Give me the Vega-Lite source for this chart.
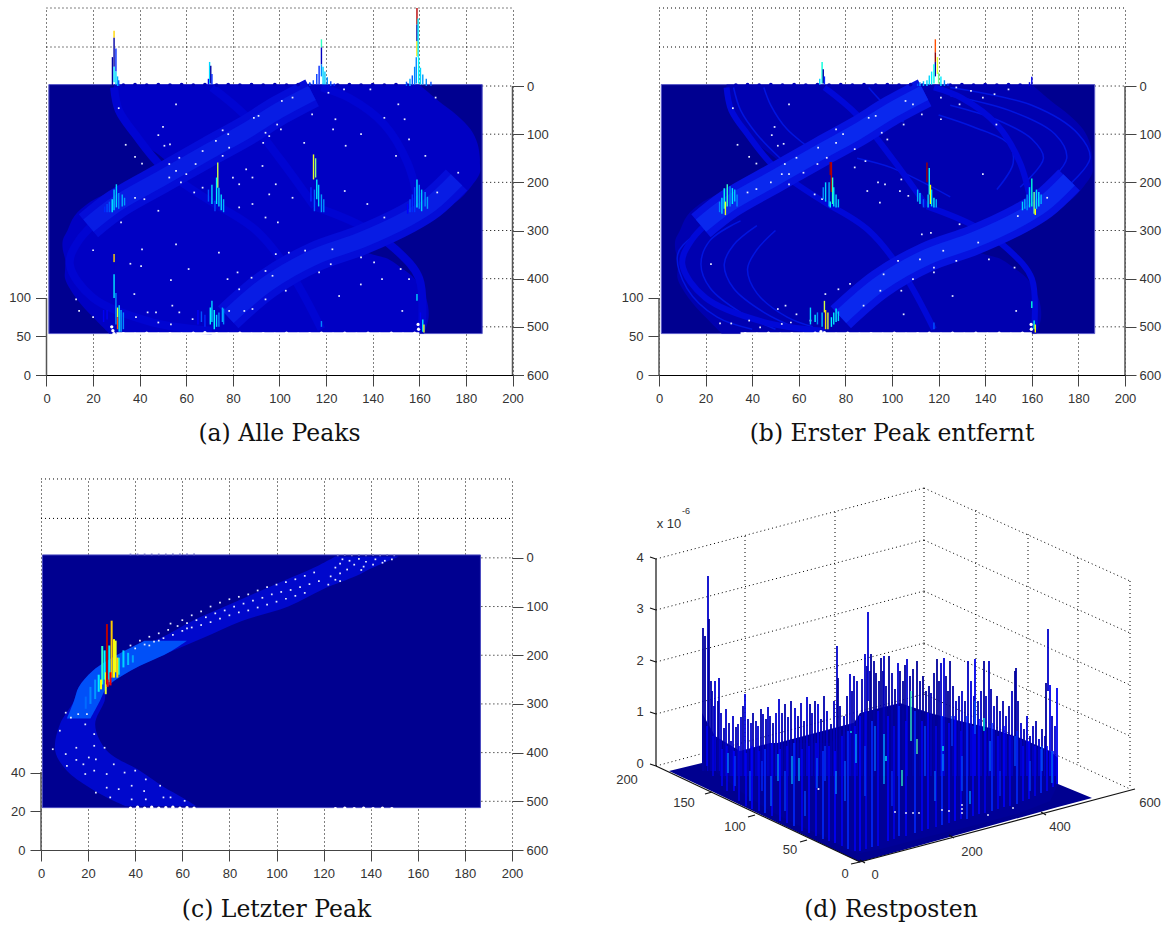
{"$schema":"https://vega.github.io/schema/vega-lite/v6.json","background":"white","padding":{"left":8,"top":7,"right":0,"bottom":0},"bounds":"flush","align":"each","columns":2,"spacing":{"row":103,"column":146},
"config":{"view":{"stroke":null},"axis":{"labelFont":"Liberation Sans","labelFontSize":13,"labelColor":"#333","tickColor":"#444","tickSize":11,"title":null,"labelFlush":false,"labelOverlap":false}},
"datasets":{
"hgrid":[{"y":-162,"x0":0,"x1":200},{"y":-81,"x0":0,"x1":200},{"y":0,"x0":187,"x1":200},{"y":100,"x0":187,"x1":200},{"y":200,"x0":187,"x1":200},{"y":300,"x0":187,"x1":200},{"y":400,"x0":187,"x1":200},{"y":500,"x0":187,"x1":200}],
"frame":[{"x":1,"x1":187,"y":-3,"y1":514}],
"region":[{"y":-3,"l":29,"r":160},{"y":30,"l":29,"r":168},{"y":60,"l":31,"r":176},{"y":90,"l":36,"r":182},{"y":120,"l":42,"r":185},{"y":150,"l":50,"r":186},{"y":160,"l":52,"r":186},{"y":180,"l":45,"r":186},{"y":210,"l":32,"r":182},{"y":240,"l":19,"r":176},{"y":270,"l":12,"r":163},{"y":300,"l":9,"r":143},{"y":320,"l":7,"r":138},{"y":340,"l":7,"r":136},{"y":360,"l":8,"r":147},{"y":380,"l":8,"r":153},{"y":400,"l":8,"r":158},{"y":442,"l":13,"r":163},{"y":480,"l":20,"r":164},{"y":514,"l":27,"r":162}],
"bright":[{"s":"r1","x":114,"y":14},{"s":"r1","x":100,"y":50},{"s":"r1","x":85,"y":95},{"s":"r1","x":70,"y":135},{"s":"r1","x":50,"y":190},{"s":"r1","x":30,"y":245},{"s":"r1","x":18,"y":290},{"s":"r2","x":78,"y":480},{"s":"r2","x":95,"y":410},{"s":"r2","x":115,"y":355},{"s":"r2","x":135,"y":320},{"s":"r2","x":155,"y":275},{"s":"r2","x":165,"y":245},{"s":"r2","x":176,"y":195}],
"dim":[{"s":"a1","x":29,"y":3},{"s":"a1","x":31,"y":50},{"s":"a1","x":38,"y":100},{"s":"a1","x":50,"y":170},{"s":"a1","x":74,"y":250},{"s":"a2","x":118,"y":3},{"s":"a2","x":130,"y":25},{"s":"a2","x":145,"y":80},{"s":"a2","x":155,"y":160},{"s":"a2","x":160,"y":250},{"s":"a4","x":115,"y":250},{"s":"a4","x":135,"y":290},{"s":"a4","x":150,"y":340},{"s":"a4","x":160,"y":400},{"s":"a4","x":161,"y":505},{"s":"a5","x":29,"y":250},{"s":"a5","x":14,"y":320},{"s":"a5","x":10,"y":370},{"s":"a5","x":20,"y":440},{"s":"a5","x":45,"y":490},{"s":"a5","x":71,"y":508},{"s":"a6","x":74,"y":250},{"s":"a6","x":90,"y":300},{"s":"a6","x":105,"y":390},{"s":"a6","x":118,"y":505},{"s":"a7","x":71,"y":3},{"s":"a7","x":85,"y":60},{"s":"a7","x":100,"y":150},{"s":"a7","x":115,"y":250}],
"arcs":[{"s":"s1","x":125,"y":3},{"s":"s1","x":160,"y":40},{"s":"s1","x":180,"y":100},{"s":"s1","x":185,"y":150},{"s":"s1","x":175,"y":210},{"s":"s2","x":125,"y":20},{"s":"s2","x":150,"y":50},{"s":"s2","x":170,"y":100},{"s":"s2","x":175,"y":150},{"s":"s2","x":165,"y":210},{"s":"s3","x":125,"y":40},{"s":"s3","x":145,"y":70},{"s":"s3","x":160,"y":110},{"s":"s3","x":165,"y":150},{"s":"s3","x":155,"y":210},{"s":"s4","x":120,"y":60},{"s":"s4","x":135,"y":85},{"s":"s4","x":150,"y":120},{"s":"s4","x":152,"y":160},{"s":"s4","x":145,"y":215},{"s":"s5","x":29,"y":270},{"s":"s5","x":15,"y":310},{"s":"s5","x":8,"y":350},{"s":"s5","x":12,"y":420},{"s":"s5","x":25,"y":480},{"s":"s5","x":40,"y":505},{"s":"s6","x":35,"y":280},{"s":"s6","x":22,"y":320},{"s":"s6","x":18,"y":370},{"s":"s6","x":22,"y":420},{"s":"s6","x":35,"y":470},{"s":"s6","x":50,"y":505},{"s":"s7","x":42,"y":290},{"s":"s7","x":32,"y":330},{"s":"s7","x":28,"y":370},{"s":"s7","x":32,"y":420},{"s":"s7","x":45,"y":470},{"s":"s7","x":60,"y":505},{"s":"s8","x":50,"y":300},{"s":"s8","x":42,"y":340},{"s":"s8","x":38,"y":380},{"s":"s8","x":42,"y":430},{"s":"s8","x":55,"y":480},{"s":"s8","x":66,"y":500},{"s":"s9","x":32,"y":3},{"s":"s9","x":35,"y":50},{"s":"s9","x":42,"y":100},{"s":"s9","x":52,"y":150},{"s":"s10","x":45,"y":3},{"s":"s10","x":48,"y":40},{"s":"s10","x":55,"y":90},{"s":"s10","x":65,"y":130},{"s":"s11","x":90,"y":3},{"s":"s11","x":95,"y":30},{"s":"s11","x":105,"y":75},{"s":"s12","x":85,"y":150},{"s":"s12","x":100,"y":170},{"s":"s12","x":125,"y":230}],
"pa":[{"x":29,"y":-115,"y2":-100,"v":0.68},{"x":29,"y":-100,"y2":-40,"v":0.02},{"x":29,"y":-40,"y2":-8,"v":0.33},{"x":28.3,"y":-60,"y2":-2,"v":0.02},{"x":29.8,"y":-78,"y2":-30,"v":0.12},{"x":29.8,"y":-30,"y2":-3,"v":0.3},{"x":30.5,"y":-20,"y2":0,"v":0.25},{"x":31,"y":-12,"y2":0,"v":0.15},{"x":70,"y":-50,"y2":-5,"v":0.3},{"x":70.5,"y":-42,"y2":-5,"v":0.02},{"x":71,"y":-25,"y2":-3,"v":0.12},{"x":69.5,"y":-15,"y2":-3,"v":0.1},{"x":118,"y":-97,"y2":-80,"v":0.45},{"x":118,"y":-80,"y2":-45,"v":0.05},{"x":118,"y":-45,"y2":-20,"v":0.2},{"x":117,"y":-42,"y2":-3,"v":0.12},{"x":118.7,"y":-40,"y2":-3,"v":0.3},{"x":116,"y":-25,"y2":-3,"v":0.13},{"x":119.5,"y":-30,"y2":-3,"v":0.28},{"x":120.5,"y":-18,"y2":-3,"v":0.2},{"x":114.5,"y":-12,"y2":-3,"v":0.14},{"x":113,"y":-8,"y2":0,"v":0.13},{"x":122,"y":-10,"y2":0,"v":0.14},{"x":123.5,"y":-5,"y2":0,"v":0.12},{"x":159,"y":-162,"y2":-128,"v":0.95},{"x":159,"y":-128,"y2":-93,"v":0.01},{"x":159,"y":-93,"y2":-62,"v":0.66},{"x":159.5,"y":-140,"y2":-60,"v":0.33},{"x":158.7,"y":-60,"y2":-5,"v":0.2},{"x":159.7,"y":-60,"y2":-5,"v":0.36},{"x":158,"y":-40,"y2":-3,"v":0.2},{"x":160.5,"y":-38,"y2":-3,"v":0.3},{"x":157,"y":-22,"y2":-3,"v":0.15},{"x":161.5,"y":-24,"y2":-3,"v":0.22},{"x":156,"y":-15,"y2":0,"v":0.25},{"x":163,"y":-15,"y2":0,"v":0.2},{"x":154.5,"y":-9,"y2":0,"v":0.15},{"x":165,"y":-9,"y2":0,"v":0.15},{"x":30,"y":204,"y2":252,"v":0.3},{"x":29,"y":215,"y2":258,"v":0.28},{"x":31,"y":222,"y2":255,"v":0.2},{"x":32.5,"y":225,"y2":250,"v":0.25},{"x":27,"y":240,"y2":262,"v":0.15},{"x":26,"y":245,"y2":262,"v":0.14},{"x":28.2,"y":235,"y2":262,"v":0.34},{"x":33.5,"y":232,"y2":248,"v":0.22},{"x":25,"y":250,"y2":262,"v":0.12},{"x":73.5,"y":159,"y2":211,"v":0.58},{"x":74,"y":211,"y2":250,"v":0.3},{"x":73,"y":190,"y2":245,"v":0.34},{"x":71,"y":205,"y2":245,"v":0.3},{"x":69.5,"y":215,"y2":240,"v":0.15},{"x":75,"y":225,"y2":258,"v":0.3},{"x":76,"y":235,"y2":262,"v":0.25},{"x":72.3,"y":238,"y2":260,"v":0.14},{"x":114.6,"y":142,"y2":194,"v":0.6},{"x":115.5,"y":150,"y2":190,"v":0.52},{"x":116,"y":194,"y2":235,"v":0.33},{"x":116.8,"y":205,"y2":250,"v":0.3},{"x":115,"y":215,"y2":260,"v":0.16},{"x":118,"y":225,"y2":262,"v":0.22},{"x":119,"y":235,"y2":262,"v":0.2},{"x":113.5,"y":210,"y2":240,"v":0.12},{"x":159,"y":194,"y2":252,"v":0.33},{"x":158,"y":210,"y2":262,"v":0.13},{"x":160,"y":205,"y2":255,"v":0.2},{"x":161,"y":215,"y2":260,"v":0.28},{"x":157,"y":225,"y2":262,"v":0.12},{"x":162.5,"y":220,"y2":250,"v":0.2},{"x":163.5,"y":230,"y2":255,"v":0.22},{"x":156,"y":235,"y2":262,"v":0.14},{"x":155,"y":245,"y2":265,"v":0.11},{"x":29,"y":349,"y2":366,"v":0.68},{"x":29,"y":366,"y2":391,"v":0.05},{"x":29,"y":391,"y2":440,"v":0.33},{"x":29.8,"y":430,"y2":495,"v":0.2},{"x":30.5,"y":460,"y2":480,"v":0.6},{"x":30.5,"y":480,"y2":505,"v":0.85},{"x":31.2,"y":455,"y2":510,"v":0.32},{"x":32,"y":465,"y2":510,"v":0.25},{"x":33,"y":470,"y2":505,"v":0.2},{"x":26,"y":465,"y2":485,"v":0.1},{"x":24.5,"y":465,"y2":490,"v":0.1},{"x":71,"y":446,"y2":490,"v":0.3},{"x":70.3,"y":460,"y2":495,"v":0.34},{"x":72,"y":465,"y2":505,"v":0.36},{"x":74,"y":470,"y2":500,"v":0.2},{"x":75.5,"y":460,"y2":490,"v":0.25},{"x":76,"y":462,"y2":495,"v":0.2},{"x":73,"y":475,"y2":500,"v":0.3},{"x":65,"y":465,"y2":495,"v":0.1},{"x":66.5,"y":468,"y2":490,"v":0.15},{"x":68,"y":475,"y2":500,"v":0.12},{"x":159,"y":432,"y2":446,"v":0.3},{"x":161.5,"y":485,"y2":510,"v":0.33},{"x":162,"y":495,"y2":512,"v":0.6},{"x":160.5,"y":470,"y2":505,"v":0.1},{"x":118,"y":488,"y2":500,"v":0.2}],
"pb":[{"x":70,"y":-50,"y2":-5,"v":0.42},{"x":70.5,"y":-35,"y2":-5,"v":0.03},{"x":71,"y":-20,"y2":-3,"v":0.12},{"x":69,"y":-15,"y2":-3,"v":0.3},{"x":118.6,"y":-97,"y2":-70,"v":0.85},{"x":118.6,"y":-70,"y2":-50,"v":0.98},{"x":118.6,"y":-50,"y2":-20,"v":0.03},{"x":119.5,"y":-60,"y2":-25,"v":0.6},{"x":118,"y":-45,"y2":-5,"v":0.4},{"x":120,"y":-28,"y2":-5,"v":0.5},{"x":117,"y":-30,"y2":-3,"v":0.33},{"x":116,"y":-22,"y2":-3,"v":0.3},{"x":121,"y":-20,"y2":0,"v":0.33},{"x":115,"y":-12,"y2":0,"v":0.3},{"x":113.5,"y":-10,"y2":0,"v":0.25},{"x":112,"y":-8,"y2":0,"v":0.22},{"x":122.5,"y":-12,"y2":0,"v":0.2},{"x":111,"y":-5,"y2":0,"v":0.15},{"x":124,"y":-5,"y2":0,"v":0.12},{"x":160,"y":-19,"y2":-3,"v":0.1},{"x":159,"y":-8,"y2":0,"v":0.08},{"x":29.3,"y":204,"y2":250,"v":0.45},{"x":28,"y":212,"y2":255,"v":0.38},{"x":30.5,"y":208,"y2":250,"v":0.2},{"x":31.5,"y":212,"y2":245,"v":0.33},{"x":32.5,"y":215,"y2":240,"v":0.28},{"x":27,"y":232,"y2":265,"v":0.3},{"x":26,"y":240,"y2":262,"v":0.2},{"x":28.5,"y":240,"y2":268,"v":0.6},{"x":33.5,"y":225,"y2":250,"v":0.2},{"x":73.5,"y":158,"y2":185,"v":0.97},{"x":74,"y":158,"y2":220,"v":0.95},{"x":74.5,"y":190,"y2":245,"v":0.45},{"x":75,"y":210,"y2":250,"v":0.33},{"x":73,"y":200,"y2":250,"v":0.25},{"x":71.5,"y":200,"y2":240,"v":0.3},{"x":70.5,"y":210,"y2":235,"v":0.2},{"x":76,"y":225,"y2":252,"v":0.3},{"x":77,"y":235,"y2":252,"v":0.28},{"x":73.5,"y":240,"y2":252,"v":0.35},{"x":115,"y":159,"y2":200,"v":0.97},{"x":116,"y":170,"y2":225,"v":0.33},{"x":116.5,"y":205,"y2":245,"v":0.62},{"x":117,"y":215,"y2":250,"v":0.3},{"x":115.5,"y":225,"y2":252,"v":0.3},{"x":118,"y":232,"y2":252,"v":0.34},{"x":119,"y":235,"y2":252,"v":0.25},{"x":111,"y":215,"y2":240,"v":0.25},{"x":112,"y":222,"y2":245,"v":0.3},{"x":113.5,"y":235,"y2":252,"v":0.15},{"x":160,"y":192,"y2":250,"v":0.42},{"x":159,"y":210,"y2":252,"v":0.3},{"x":161,"y":220,"y2":265,"v":0.5},{"x":162,"y":215,"y2":255,"v":0.3},{"x":163,"y":220,"y2":250,"v":0.33},{"x":158,"y":225,"y2":258,"v":0.2},{"x":157,"y":235,"y2":255,"v":0.25},{"x":156,"y":240,"y2":258,"v":0.3},{"x":164,"y":225,"y2":245,"v":0.25},{"x":161.5,"y":255,"y2":268,"v":0.62},{"x":71,"y":446,"y2":470,"v":0.58},{"x":71.5,"y":465,"y2":505,"v":0.68},{"x":72.5,"y":470,"y2":505,"v":0.6},{"x":70,"y":470,"y2":500,"v":0.28},{"x":75,"y":470,"y2":495,"v":0.33},{"x":76,"y":462,"y2":490,"v":0.34},{"x":77,"y":468,"y2":488,"v":0.3},{"x":74,"y":480,"y2":500,"v":0.35},{"x":65,"y":460,"y2":495,"v":0.3},{"x":68,"y":470,"y2":495,"v":0.2},{"x":67,"y":475,"y2":490,"v":0.36},{"x":160,"y":447,"y2":461,"v":0.42},{"x":161,"y":487,"y2":505,"v":0.4},{"x":161.5,"y":495,"y2":512,"v":0.62},{"x":118,"y":491,"y2":505,"v":0.15}],
"pc":[{"x":26,"y":181,"y2":260,"v":0.45},{"x":27,"y":190,"y2":250,"v":0.36},{"x":24.5,"y":240,"y2":275,"v":0.34},{"x":23,"y":250,"y2":290,"v":0.22},{"x":21,"y":265,"y2":300,"v":0.2},{"x":19,"y":285,"y2":310,"v":0.17},{"x":35,"y":190,"y2":225,"v":0.3},{"x":37,"y":195,"y2":220,"v":0.27},{"x":39,"y":200,"y2":215,"v":0.23},{"x":29,"y":180,"y2":255,"v":0.33},{"x":33,"y":205,"y2":240,"v":0.4},{"x":31,"y":167,"y2":246,"v":0.62},{"x":31.7,"y":170,"y2":235,"v":0.6},{"x":32.4,"y":205,"y2":246,"v":0.68},{"x":27.5,"y":235,"y2":280,"v":0.6},{"x":25.5,"y":250,"y2":270,"v":0.62},{"x":28,"y":136,"y2":260,"v":0.95},{"x":30,"y":129,"y2":246,"v":0.7},{"x":29.5,"y":235,"y2":262,"v":0.9},{"x":28.3,"y":250,"y2":265,"v":0.9}],
"ribbon":[{"y":-3,"l":125,"r":152},{"y":20,"l":116,"r":141},{"y":37,"l":108,"r":134},{"y":64,"l":95,"r":120},{"y":100,"l":78,"r":105},{"y":130,"l":64,"r":85},{"y":164,"l":51,"r":69},{"y":195,"l":34,"r":54},{"y":232,"l":22,"r":38},{"y":266,"l":16,"r":28},{"y":294,"l":14,"r":27},{"y":342,"l":8,"r":23},{"y":396,"l":6,"r":28},{"y":437,"l":11,"r":42},{"y":470,"l":20,"r":52},{"y":492,"l":28,"r":60},{"y":510,"l":36,"r":66}],
"ribboncore":[{"y":170,"l":44,"r":62},{"y":195,"l":34,"r":54},{"y":232,"l":22,"r":38},{"y":266,"l":16,"r":28},{"y":294,"l":14,"r":25},{"y":330,"l":11,"r":21}],
"da":[{"x":55.6,"y":38},{"x":31,"y":46},{"x":50,"y":85},{"x":48,"y":102},{"x":34,"y":122},{"x":38,"y":147},{"x":41,"y":161},{"x":50.6,"y":124},{"x":53,"y":121},{"x":75.6,"y":92},{"x":78,"y":100},{"x":89,"y":66},{"x":91,"y":62},{"x":94,"y":97},{"x":95.6,"y":104},{"x":93,"y":118},{"x":101,"y":31},{"x":105.6,"y":24},{"x":99,"y":80},{"x":100.6,"y":90},{"x":67,"y":135},{"x":72.7,"y":114},{"x":78.4,"y":128},{"x":75.6,"y":145},{"x":52.7,"y":162},{"x":57,"y":149},{"x":64,"y":162},{"x":55.6,"y":176},{"x":60,"y":183},{"x":52.7,"y":190},{"x":57.7,"y":200},{"x":63.4,"y":221},{"x":67,"y":211},{"x":80,"y":190},{"x":85.7,"y":173},{"x":92.7,"y":166},{"x":82.7,"y":204},{"x":88.4,"y":190},{"x":98.4,"y":204},{"x":95.6,"y":225},{"x":105.6,"y":232},{"x":88.4,"y":245},{"x":82.7,"y":252},{"x":94,"y":273},{"x":99.3,"y":283},{"x":48,"y":259},{"x":32,"y":283},{"x":38,"y":232},{"x":42,"y":235},{"x":121,"y":14},{"x":127.7,"y":7},{"x":139,"y":7},{"x":151,"y":38},{"x":167,"y":24},{"x":114,"y":59},{"x":124,"y":69},{"x":145,"y":66},{"x":153.7,"y":69},{"x":135,"y":100},{"x":155.6,"y":111},{"x":123,"y":90},{"x":110.6,"y":118},{"x":128.4,"y":124},{"x":150,"y":145},{"x":162.6,"y":145},{"x":128,"y":218},{"x":167.7,"y":221},{"x":176.7,"y":180},{"x":137.7,"y":245},{"x":145,"y":273},{"x":20,"y":341},{"x":41,"y":339},{"x":36,"y":369},{"x":40.6,"y":374},{"x":55.6,"y":329},{"x":61,"y":380},{"x":53.4,"y":403},{"x":74,"y":346},{"x":82,"y":387},{"x":77.7,"y":401},{"x":88,"y":398},{"x":94,"y":384},{"x":98.4,"y":349},{"x":104,"y":346},{"x":97,"y":394},{"x":102.7,"y":425},{"x":82.7,"y":422},{"x":94,"y":443},{"x":84.9,"y":467},{"x":88.4,"y":463},{"x":12.7,"y":443},{"x":14,"y":467},{"x":20,"y":480},{"x":37.7,"y":432},{"x":38.4,"y":480},{"x":43.4,"y":470},{"x":47,"y":470},{"x":54,"y":456},{"x":57,"y":470},{"x":53.4,"y":495},{"x":62.7,"y":484},{"x":78.4,"y":467},{"x":48,"y":491},{"x":111,"y":342},{"x":122.7,"y":339},{"x":117,"y":387},{"x":122,"y":370},{"x":135,"y":356},{"x":140.6,"y":366},{"x":152,"y":380},{"x":155.6,"y":401},{"x":144,"y":401},{"x":134.9,"y":412},{"x":125.6,"y":436},{"x":152.7,"y":467}],
"db":[{"x":55.8,"y":38},{"x":31.7,"y":46},{"x":49.6,"y":85},{"x":48.4,"y":102},{"x":33.7,"y":122},{"x":38.7,"y":147},{"x":41.8,"y":161},{"x":51,"y":124},{"x":53.5,"y":120},{"x":76,"y":90},{"x":79,"y":100},{"x":90,"y":66},{"x":93,"y":62},{"x":95.6,"y":97},{"x":98,"y":111},{"x":105.8,"y":31},{"x":109,"y":38},{"x":105,"y":80},{"x":112.8,"y":59},{"x":68.3,"y":128},{"x":76,"y":118},{"x":84,"y":131},{"x":72,"y":149},{"x":54,"y":162},{"x":59,"y":149},{"x":68,"y":162},{"x":55.8,"y":183},{"x":62,"y":180},{"x":52.7,"y":183},{"x":55.8,"y":204},{"x":66.8,"y":225},{"x":70,"y":235},{"x":84,"y":169},{"x":88.6,"y":156},{"x":127.6,"y":3},{"x":133.9,"y":10},{"x":139,"y":24},{"x":144,"y":17},{"x":150,"y":7},{"x":121,"y":24},{"x":129,"y":38},{"x":121,"y":69},{"x":144.8,"y":80},{"x":139,"y":183},{"x":104,"y":194},{"x":94,"y":200},{"x":97,"y":204},{"x":89.4,"y":218},{"x":103.4,"y":218},{"x":107,"y":228},{"x":94.8,"y":242},{"x":38,"y":221},{"x":41.8,"y":214},{"x":48,"y":200},{"x":154,"y":270},{"x":166.6,"y":232},{"x":112.8,"y":308},{"x":116.7,"y":305},{"x":129,"y":287},{"x":137,"y":325},{"x":122,"y":342},{"x":112,"y":360},{"x":141.6,"y":360},{"x":118,"y":377},{"x":127.6,"y":363},{"x":102.6,"y":363},{"x":96.4,"y":391},{"x":109,"y":401},{"x":118,"y":387},{"x":104,"y":425},{"x":95,"y":425},{"x":87.8,"y":456},{"x":82,"y":411},{"x":22.3,"y":370},{"x":152.6,"y":377},{"x":126,"y":436},{"x":153.3,"y":467},{"x":105,"y":474},{"x":77,"y":422},{"x":71.4,"y":432},{"x":54.3,"y":456},{"x":51,"y":463},{"x":59,"y":474},{"x":26.2,"y":493},{"x":31,"y":493},{"x":38.7,"y":487},{"x":52.7,"y":494},{"x":56.6,"y":491},{"x":65,"y":487},{"x":43.4,"y":501}],
"dc":[{"x":128,"y":3},{"x":131,"y":6},{"x":135,"y":2},{"x":138,"y":8},{"x":142,"y":3},{"x":146,"y":6},{"x":149,"y":3},{"x":127,"y":12},{"x":133,"y":14},{"x":137,"y":18},{"x":141,"y":14},{"x":145,"y":10},{"x":125,"y":20},{"x":130,"y":24},{"x":136,"y":25},{"x":127,"y":32},{"x":123,"y":38},{"x":125,"y":45},{"x":122,"y":55},{"x":127,"y":48},{"x":116,"y":30},{"x":112,"y":37},{"x":108,"y":44},{"x":104,"y":50},{"x":100,"y":55},{"x":96,"y":60},{"x":92,"y":67},{"x":88,"y":75},{"x":84,"y":80},{"x":80,"y":85},{"x":76,"y":92},{"x":72,"y":100},{"x":68,"y":110},{"x":64,"y":118},{"x":118,"y":48},{"x":114,"y":54},{"x":110,"y":60},{"x":106,"y":66},{"x":102,"y":70},{"x":98,"y":75},{"x":94,"y":82},{"x":90,"y":88},{"x":86,"y":94},{"x":82,"y":100},{"x":78,"y":108},{"x":74,"y":114},{"x":70,"y":122},{"x":66,"y":128},{"x":62,"y":134},{"x":58,"y":140},{"x":54,"y":148},{"x":50,"y":155},{"x":46,"y":162},{"x":112,"y":72},{"x":108,"y":78},{"x":104,"y":84},{"x":100,"y":90},{"x":96,"y":96},{"x":92,"y":102},{"x":88,"y":108},{"x":84,"y":112},{"x":80,"y":118},{"x":76,"y":125},{"x":72,"y":132},{"x":68,"y":138},{"x":64,"y":143},{"x":60,"y":150},{"x":56,"y":158},{"x":52,"y":165},{"x":48,"y":172},{"x":44,"y":178},{"x":40,"y":186},{"x":60,"y":128},{"x":55,"y":135},{"x":62,"y":145},{"x":50,"y":170},{"x":46,"y":180},{"x":42,"y":170},{"x":38,"y":180},{"x":10.5,"y":318},{"x":15.8,"y":321},{"x":19.5,"y":321},{"x":8,"y":355},{"x":12.7,"y":328},{"x":18.8,"y":342},{"x":22.6,"y":362},{"x":5,"y":393},{"x":10.5,"y":403},{"x":15,"y":390},{"x":22.6,"y":386},{"x":27,"y":390},{"x":15,"y":415},{"x":20.3,"y":410},{"x":23.3,"y":414},{"x":11,"y":427},{"x":18,"y":424},{"x":22.6,"y":437},{"x":27.9,"y":444},{"x":30.9,"y":424},{"x":35.5,"y":441},{"x":40,"y":437},{"x":44.5,"y":455},{"x":27.9,"y":472},{"x":33,"y":475},{"x":38.5,"y":468},{"x":43.8,"y":479},{"x":50.6,"y":468},{"x":29.4,"y":492},{"x":38.5,"y":496},{"x":44.5,"y":496},{"x":52,"y":492},{"x":55,"y":492},{"x":61,"y":499},{"x":18.8,"y":444},{"x":23.3,"y":482}],
"topa":[{"x":33,"y":-2},{"x":38,"y":-3},{"x":43,"y":-2},{"x":48,"y":-3},{"x":53,"y":-2},{"x":58,"y":-3},{"x":63,"y":-2},{"x":68,"y":-3},{"x":73,"y":-2},{"x":78,"y":-3},{"x":83,"y":-2},{"x":88,"y":-3},{"x":93,"y":-2},{"x":98,"y":-3},{"x":103,"y":-2},{"x":108,"y":-3},{"x":113,"y":-2},{"x":125,"y":-2},{"x":130,"y":-3},{"x":135,"y":-2},{"x":140,"y":-3},{"x":145,"y":-2},{"x":150,"y":-3},{"x":155,"y":-2}],
"bota":[{"x":28,"y":500},{"x":28.5,"y":508},{"x":29,"y":514},{"x":33,"y":514},{"x":38,"y":515},{"x":43,"y":513},{"x":48,"y":515},{"x":53,"y":514},{"x":58,"y":515},{"x":63,"y":513},{"x":68,"y":512},{"x":73,"y":514},{"x":78,"y":515},{"x":83,"y":513},{"x":88,"y":515},{"x":93,"y":514},{"x":98,"y":515},{"x":103,"y":513},{"x":108,"y":515},{"x":113,"y":514},{"x":118,"y":513},{"x":123,"y":515},{"x":128,"y":513},{"x":133,"y":515},{"x":138,"y":513},{"x":143,"y":515},{"x":148,"y":513},{"x":153,"y":515},{"x":158,"y":513},{"x":159.5,"y":495},{"x":159.7,"y":505}],
"botb":[{"x":37,"y":514},{"x":42,"y":515},{"x":47,"y":513},{"x":52,"y":515},{"x":57,"y":514},{"x":62,"y":515},{"x":67,"y":513},{"x":69.5,"y":510},{"x":71,"y":512},{"x":76,"y":515},{"x":81,"y":513},{"x":86,"y":515},{"x":91,"y":514},{"x":96,"y":515},{"x":101,"y":513},{"x":106,"y":515},{"x":111,"y":514},{"x":116,"y":513},{"x":121,"y":515},{"x":126,"y":513},{"x":131,"y":515},{"x":136,"y":513},{"x":141,"y":515},{"x":146,"y":513},{"x":151,"y":515},{"x":156,"y":513},{"x":159.7,"y":495},{"x":159.8,"y":505}],
"botc":[{"x":38,"y":514},{"x":41,"y":512},{"x":44,"y":514},{"x":47,"y":512},{"x":50,"y":514},{"x":53,"y":513},{"x":56,"y":512},{"x":59,"y":514},{"x":62,"y":513},{"x":65,"y":514},{"x":125,"y":515},{"x":129,"y":514},{"x":133,"y":515},{"x":137,"y":514},{"x":141,"y":515},{"x":145,"y":514},{"x":149,"y":515}],
"topc":[{"x":38,"y":-7},{"x":41,"y":-7},{"x":44,"y":-7},{"x":47,"y":-7},{"x":50,"y":-7},{"x":53,"y":-7},{"x":56,"y":-7},{"x":59,"y":-7},{"x":62,"y":-7},{"x":65,"y":-7},{"x":126,"y":-5},{"x":129,"y":-6},{"x":132,"y":-5},{"x":135,"y":-6},{"x":138,"y":-5},{"x":141,"y":-6},{"x":144,"y":-5},{"x":147,"y":-6},{"x":150,"y":-5}],
"dgrid":[{"x0":656,"y0":558,"x1":924,"y1":487},{"x0":656,"y0":609,"x1":924,"y1":539},{"x0":656,"y0":661,"x1":924,"y1":590},{"x0":656,"y0":713,"x1":924,"y1":642},{"x0":656,"y0":765,"x1":924,"y1":693},{"x0":924,"y0":487,"x1":1130,"y1":580},{"x0":924,"y0":539,"x1":1130,"y1":632},{"x0":924,"y0":590,"x1":1130,"y1":684},{"x0":924,"y0":642,"x1":1130,"y1":735},{"x0":924,"y0":693,"x1":1130,"y1":788},{"x0":745,"y0":535,"x1":745,"y1":741},{"x0":835,"y0":511,"x1":835,"y1":717},{"x0":924,"y0":487,"x1":924,"y1":693},{"x0":976,"y0":509,"x1":976,"y1":717},{"x0":1028,"y0":533,"x1":1028,"y1":741},{"x0":1078,"y0":557,"x1":1078,"y1":764},{"x0":1130,"y0":580,"x1":1130,"y1":788}],
"daxes":[{"x0":656,"y0":558,"x1":656,"y1":765},{"x0":656,"y0":765,"x1":860,"y1":861},{"x0":860,"y0":861,"x1":1135,"y1":788},{"x0":650,"y0":556,"x1":656,"y1":558},{"x0":650,"y0":607,"x1":656,"y1":609},{"x0":650,"y0":659,"x1":656,"y1":661},{"x0":650,"y0":711,"x1":656,"y1":713},{"x0":650,"y0":763,"x1":656,"y1":765},{"x0":851,"y0":863,"x1":860,"y1":861},{"x0":800,"y0":841,"x1":807,"y1":839},{"x0":748,"y0":816,"x1":755,"y1":814},{"x0":705,"y0":793,"x1":712,"y1":791},{"x0":865,"y0":862,"x1":860,"y1":859},{"x0":954,"y0":837,"x1":949,"y1":834},{"x0":1046,"y0":814,"x1":1041,"y1":811}],
"floor":[{"px":669,"t":770,"b":770},{"px":702,"t":762,"b":785.6},{"px":853,"t":722,"b":857.7},{"px":860,"t":724,"b":861},{"px":1058,"t":783,"b":806},{"px":1092,"t":797,"b":797}],
"mass":[{"px":702,"t":712,"b":762},{"px":715,"t":735,"b":770},{"px":740,"t":750,"b":790},{"px":770,"t":742,"b":810},{"px":800,"t":742,"b":825},{"px":830,"t":742,"b":838},{"px":850,"t":728,"b":850},{"px":860,"t":712,"b":852},{"px":880,"t":707,"b":848},{"px":900,"t":702,"b":843},{"px":930,"t":712,"b":835},{"px":960,"t":720,"b":828},{"px":990,"t":727,"b":820},{"px":1020,"t":737,"b":812},{"px":1050,"t":750,"b":800},{"px":1058,"t":757,"b":783}],
"dspike":[{"px":703,"y0":770,"y1":627,"v":0.02},{"px":705,"y0":770,"y1":635,"v":0.01},{"px":708,"y0":770,"y1":575,"v":0.06},{"px":709,"y0":770,"y1":618,"v":0.01},{"px":711,"y0":770,"y1":680,"v":0.03},{"px":715,"y0":770,"y1":680,"v":0.07},{"px":719,"y0":770,"y1":677,"v":0.06},{"px":712,"y0":770,"y1":690,"v":0.03},{"px":714,"y0":770,"y1":705,"v":0.05},{"px":718,"y0":770,"y1":700,"v":0.02},{"px":721,"y0":775,"y1":712,"v":0.05},{"px":724,"y0":775,"y1":727,"v":0.03},{"px":726,"y0":775,"y1":708,"v":0.06},{"px":729,"y0":775,"y1":722,"v":0.03},{"px":731,"y0":775,"y1":740,"v":0.05},{"px":733,"y0":775,"y1":715,"v":0.06},{"px":736,"y0":775,"y1":726,"v":0.03},{"px":738,"y0":775,"y1":723,"v":0.05},{"px":741,"y0":775,"y1":716,"v":0.06},{"px":743,"y0":775,"y1":705,"v":0.03},{"px":745,"y0":775,"y1":693,"v":0.08},{"px":748,"y0":775,"y1":718,"v":0.04},{"px":751,"y0":775,"y1":722,"v":0.06},{"px":753,"y0":775,"y1":712,"v":0.03},{"px":756,"y0":775,"y1":720,"v":0.05},{"px":758,"y0":775,"y1":725,"v":0.07},{"px":761,"y0":775,"y1":708,"v":0.03},{"px":763,"y0":775,"y1":713,"v":0.05},{"px":766,"y0":775,"y1":718,"v":0.03},{"px":768,"y0":775,"y1":706,"v":0.06},{"px":770,"y0":775,"y1":715,"v":0.04},{"px":773,"y0":775,"y1":722,"v":0.03},{"px":776,"y0":775,"y1":712,"v":0.06},{"px":779,"y0":775,"y1":698,"v":0.07},{"px":782,"y0":775,"y1":712,"v":0.04},{"px":785,"y0":775,"y1":703,"v":0.03},{"px":788,"y0":775,"y1":716,"v":0.05},{"px":791,"y0":775,"y1":700,"v":0.03},{"px":795,"y0":775,"y1":707,"v":0.07},{"px":798,"y0":775,"y1":715,"v":0.04},{"px":801,"y0":775,"y1":702,"v":0.05},{"px":804,"y0":775,"y1":720,"v":0.03},{"px":807,"y0":775,"y1":696,"v":0.07},{"px":810,"y0":775,"y1":703,"v":0.02},{"px":812,"y0":775,"y1":712,"v":0.05},{"px":815,"y0":775,"y1":700,"v":0.03},{"px":818,"y0":775,"y1":703,"v":0.08},{"px":821,"y0":775,"y1":718,"v":0.04},{"px":824,"y0":775,"y1":695,"v":0.03},{"px":827,"y0":775,"y1":710,"v":0.06},{"px":831,"y0":775,"y1":723,"v":0.03},{"px":834,"y0":775,"y1":700,"v":0.05},{"px":837,"y0":775,"y1":645,"v":0.06},{"px":838,"y0":775,"y1":677,"v":0.01},{"px":840,"y0":775,"y1":705,"v":0.03},{"px":844,"y0":775,"y1":715,"v":0.05},{"px":847,"y0":775,"y1":695,"v":0.03},{"px":850,"y0":775,"y1":673,"v":0.06},{"px":852,"y0":775,"y1":690,"v":0.03},{"px":854,"y0":775,"y1":675,"v":0.04},{"px":857,"y0":775,"y1":680,"v":0.05},{"px":862,"y0":775,"y1":678,"v":0.03},{"px":865,"y0":775,"y1":653,"v":0.06},{"px":867,"y0":775,"y1":665,"v":0.01},{"px":868,"y0":700,"y1":611,"v":0.07},{"px":870,"y0":775,"y1":670,"v":0.02},{"px":871,"y0":775,"y1":653,"v":0.01},{"px":874,"y0":775,"y1":660,"v":0.02},{"px":876,"y0":775,"y1":672,"v":0.01},{"px":879,"y0":775,"y1":680,"v":0.02},{"px":881,"y0":775,"y1":657,"v":0.01},{"px":883,"y0":775,"y1":670,"v":0.02},{"px":884,"y0":775,"y1":655,"v":0.05},{"px":886,"y0":775,"y1":685,"v":0.02},{"px":889,"y0":775,"y1":655,"v":0.01},{"px":892,"y0":775,"y1":672,"v":0.03},{"px":895,"y0":775,"y1":688,"v":0.01},{"px":898,"y0":775,"y1":662,"v":0.07},{"px":900,"y0":775,"y1":670,"v":0.01},{"px":903,"y0":775,"y1":680,"v":0.02},{"px":905,"y0":775,"y1":664,"v":0.01},{"px":907,"y0":775,"y1":658,"v":0.07},{"px":910,"y0":775,"y1":675,"v":0.01},{"px":913,"y0":775,"y1":668,"v":0.02},{"px":917,"y0":775,"y1":660,"v":0.01},{"px":920,"y0":775,"y1":680,"v":0.02},{"px":923,"y0":775,"y1":675,"v":0.01},{"px":926,"y0":775,"y1":690,"v":0.02},{"px":929,"y0":775,"y1":685,"v":0.01},{"px":931,"y0":775,"y1":692,"v":0.04},{"px":934,"y0":775,"y1":672,"v":0.02},{"px":937,"y0":775,"y1":658,"v":0.01},{"px":939,"y0":775,"y1":680,"v":0.02},{"px":941,"y0":775,"y1":662,"v":0.06},{"px":944,"y0":775,"y1":657,"v":0.07},{"px":946,"y0":775,"y1":675,"v":0.02},{"px":948,"y0":775,"y1":690,"v":0.01},{"px":950,"y0":775,"y1":660,"v":0.01},{"px":953,"y0":775,"y1":685,"v":0.03},{"px":956,"y0":775,"y1":700,"v":0.05},{"px":959,"y0":775,"y1":695,"v":0.03},{"px":962,"y0":775,"y1":690,"v":0.06},{"px":965,"y0":775,"y1":700,"v":0.03},{"px":968,"y0":775,"y1":660,"v":0.05},{"px":971,"y0":775,"y1":680,"v":0.07},{"px":974,"y0":775,"y1":695,"v":0.03},{"px":975,"y0":775,"y1":658,"v":0.09},{"px":978,"y0":775,"y1":700,"v":0.03},{"px":981,"y0":775,"y1":690,"v":0.05},{"px":984,"y0":775,"y1":660,"v":0.01},{"px":986,"y0":775,"y1":695,"v":0.04},{"px":989,"y0":775,"y1":660,"v":0.06},{"px":991,"y0":775,"y1":688,"v":0.03},{"px":994,"y0":775,"y1":705,"v":0.05},{"px":997,"y0":775,"y1":695,"v":0.02},{"px":1000,"y0":775,"y1":710,"v":0.05},{"px":1003,"y0":775,"y1":700,"v":0.03},{"px":1006,"y0":775,"y1":715,"v":0.06},{"px":1009,"y0":775,"y1":705,"v":0.03},{"px":1012,"y0":775,"y1":690,"v":0.05},{"px":1015,"y0":775,"y1":670,"v":0.01},{"px":1016,"y0":775,"y1":667,"v":0.02},{"px":1018,"y0":775,"y1":700,"v":0.03},{"px":1021,"y0":775,"y1":722,"v":0.06},{"px":1024,"y0":775,"y1":728,"v":0.03},{"px":1027,"y0":775,"y1":715,"v":0.07},{"px":1030,"y0":775,"y1":735,"v":0.03},{"px":1033,"y0":775,"y1":725,"v":0.05},{"px":1036,"y0":775,"y1":720,"v":0.03},{"px":1039,"y0":775,"y1":738,"v":0.06},{"px":1042,"y0":775,"y1":728,"v":0.03},{"px":1045,"y0":775,"y1":735,"v":0.05},{"px":1046,"y0":775,"y1":682,"v":0.01},{"px":1048,"y0":690,"y1":628,"v":0.06},{"px":1050,"y0":775,"y1":684,"v":0.09},{"px":1052,"y0":775,"y1":715,"v":0.04},{"px":1055,"y0":775,"y1":725,"v":0.06},{"px":1057,"y0":783,"y1":687,"v":0.1}],
"dfill":[{"px":707,"y0":765,"y1":725,"v":0.1},{"px":713,"y0":775,"y1":735,"v":0.08},{"px":722,"y0":785,"y1":748,"v":0.1},{"px":727,"y0":790,"y1":745,"v":0.09},{"px":734,"y0":790,"y1":750,"v":0.11},{"px":739,"y0":800,"y1":745,"v":0.08},{"px":746,"y0":805,"y1":752,"v":0.1},{"px":752,"y0":808,"y1":745,"v":0.11},{"px":759,"y0":810,"y1":750,"v":0.09},{"px":765,"y0":812,"y1":748,"v":0.12},{"px":772,"y0":815,"y1":742,"v":0.1},{"px":780,"y0":820,"y1":748,"v":0.11},{"px":787,"y0":822,"y1":745,"v":0.09},{"px":794,"y0":825,"y1":742,"v":0.12},{"px":802,"y0":830,"y1":748,"v":0.1},{"px":809,"y0":832,"y1":745,"v":0.11},{"px":816,"y0":835,"y1":742,"v":0.09},{"px":823,"y0":838,"y1":750,"v":0.12},{"px":829,"y0":840,"y1":745,"v":0.1},{"px":835,"y0":842,"y1":750,"v":0.11},{"px":842,"y0":845,"y1":735,"v":0.1},{"px":848,"y0":848,"y1":730,"v":0.12},{"px":855,"y0":850,"y1":725,"v":0.1},{"px":860,"y0":850,"y1":715,"v":0.11},{"px":866,"y0":848,"y1":710,"v":0.09},{"px":872,"y0":846,"y1":720,"v":0.12},{"px":878,"y0":845,"y1":710,"v":0.1},{"px":888,"y0":840,"y1":715,"v":0.11},{"px":894,"y0":838,"y1":725,"v":0.09},{"px":899,"y0":835,"y1":705,"v":0.12},{"px":906,"y0":835,"y1":720,"v":0.1},{"px":915,"y0":832,"y1":710,"v":0.12},{"px":922,"y0":830,"y1":720,"v":0.1},{"px":928,"y0":828,"y1":712,"v":0.11},{"px":936,"y0":826,"y1":725,"v":0.09},{"px":942,"y0":824,"y1":715,"v":0.12},{"px":949,"y0":822,"y1":722,"v":0.1},{"px":955,"y0":820,"y1":715,"v":0.11},{"px":961,"y0":818,"y1":730,"v":0.09},{"px":967,"y0":818,"y1":715,"v":0.12},{"px":973,"y0":815,"y1":725,"v":0.1},{"px":979,"y0":813,"y1":718,"v":0.11},{"px":985,"y0":812,"y1":730,"v":0.09},{"px":992,"y0":810,"y1":722,"v":0.12},{"px":998,"y0":808,"y1":735,"v":0.1},{"px":1004,"y0":806,"y1":725,"v":0.11},{"px":1010,"y0":805,"y1":735,"v":0.09},{"px":1017,"y0":803,"y1":730,"v":0.12},{"px":1023,"y0":800,"y1":745,"v":0.1},{"px":1029,"y0":798,"y1":740,"v":0.11},{"px":1035,"y0":795,"y1":745,"v":0.09},{"px":1041,"y0":792,"y1":748,"v":0.12},{"px":1047,"y0":790,"y1":745,"v":0.1},{"px":1053,"y0":786,"y1":750,"v":0.11}],
"dlight":[{"px":728,"y0":772,"y1":752,"v":0.2},{"px":778,"y0":780,"y1":753,"v":0.22},{"px":792,"y0":783,"y1":755,"v":0.25},{"px":799,"y0":780,"y1":757,"v":0.25},{"px":836,"y0":793,"y1":770,"v":0.2},{"px":856,"y0":762,"y1":733,"v":0.25},{"px":884,"y0":783,"y1":733,"v":0.25},{"px":970,"y0":803,"y1":790,"v":0.22},{"px":975,"y0":733,"y1":700,"v":0.15},{"px":943,"y0":770,"y1":753,"v":0.2},{"px":817,"y0":787,"y1":757,"v":0.15},{"px":735,"y0":785,"y1":755,"v":0.13},{"px":750,"y0":800,"y1":770,"v":0.14},{"px":762,"y0":790,"y1":760,"v":0.12},{"px":771,"y0":805,"y1":775,"v":0.16},{"px":785,"y0":810,"y1":770,"v":0.13},{"px":805,"y0":815,"y1":790,"v":0.14},{"px":825,"y0":780,"y1":745,"v":0.13},{"px":845,"y0":800,"y1":760,"v":0.15},{"px":865,"y0":795,"y1":745,"v":0.13},{"px":875,"y0":770,"y1":725,"v":0.17},{"px":892,"y0":805,"y1":770,"v":0.12},{"px":925,"y0":775,"y1":725,"v":0.14},{"px":935,"y0":800,"y1":770,"v":0.16},{"px":952,"y0":745,"y1":715,"v":0.13},{"px":962,"y0":790,"y1":755,"v":0.14},{"px":990,"y0":770,"y1":740,"v":0.16},{"px":1000,"y0":795,"y1":770,"v":0.12},{"px":1015,"y0":765,"y1":735,"v":0.14},{"px":1030,"y0":790,"y1":760,"v":0.13},{"px":1042,"y0":770,"y1":745,"v":0.15},{"px":1052,"y0":782,"y1":750,"v":0.18},{"px":911,"y0":740,"y1":690,"v":0.45},{"px":917,"y0":753,"y1":738,"v":0.48},{"px":902,"y0":785,"y1":769,"v":0.45},{"px":943,"y0":750,"y1":745,"v":0.4},{"px":886,"y0":760,"y1":755,"v":0.35},{"px":851,"y0":732,"y1":730,"v":0.42},{"px":984,"y0":730,"y1":717,"v":0.4}],
"dwhite":[{"px":818.5,"py":788},{"px":895,"py":811},{"px":906,"py":812},{"px":913,"py":812},{"px":919,"py":812},{"px":942,"py":809},{"px":949,"py":810},{"px":962,"py":804},{"px":962,"py":808},{"px":962,"py":812},{"px":988,"py":814},{"px":1013,"py":807},{"px":700,"py":790}],
"dtext":[{"t":"4","px":640,"py":557},{"t":"3","px":640,"py":608},{"t":"2","px":640,"py":660},{"t":"1","px":640,"py":711},{"t":"0","px":640,"py":763},{"t":"200","px":627,"py":779},{"t":"150","px":684,"py":802},{"t":"100","px":735,"py":826},{"t":"50","px":790,"py":849},{"t":"0","px":845,"py":873},{"t":"0","px":875,"py":874},{"t":"200","px":972,"py":851},{"t":"400","px":1060,"py":826},{"t":"600","px":1150,"py":802},{"t":"x 10","px":669,"py":523}]
},
"concat":[
{"width":471.5,"height":367,"layer":[
{"data":{"values":[{"x":0,"y":0}]},"mark":{"type":"point","opacity":0},"encoding":{"x":{"field":"x","type":"quantitative","scale":{"domain":[-2.36,200],"nice":false},"axis":{"values":[0,20,40,60,80,100,120,140,160,180,200],"grid":true,"gridDash":[1,3],"gridColor":"#000","gridOpacity":1,"domainColor":"#000","labelPadding":6}},"y":{"field":"y","type":"quantitative","scale":{"domain":[-162,600],"nice":false,"reverse":true},"axis":{"orient":"right","values":[0,100,200,300,400,500,600],"grid":false,"domain":false,"labelPadding":3}}}},
{"data":{"values":[{"z":0}]},"mark":{"type":"point","opacity":0},"encoding":{"y":{"field":"z","type":"quantitative","scale":{"domain":[0,476.6],"nice":false},"axis":{"orient":"left","values":[0,50,100],"offset":-5.5,"grid":false,"domain":false,"labelPadding":5}}}},
{"layer":[
{"data":{"name":"hgrid"},"mark":{"type":"rule","stroke":"#000","strokeDash":[1,3],"strokeWidth":1},"encoding":{"x":{"field":"x0","type":"quantitative","scale":{"domain":[-2.36,200],"nice":false},"axis":null},"x2":{"field":"x1"},"y":{"field":"y","type":"quantitative","scale":{"domain":[-162,600],"nice":false,"reverse":true},"axis":null}}},
{"data":{"values":[{"x":200,"y":0,"y2":600},{"x":0,"y":440,"y2":600}]},"mark":{"type":"rule","stroke":"#555","strokeWidth":1.5},"encoding":{"x":{"field":"x","type":"quantitative","axis":null},"y":{"field":"y","type":"quantitative","axis":null},"y2":{"field":"y2"}}},
{"data":{"name":"frame"},"mark":{"type":"rect","fill":"#000090","stroke":"#5a5ac8","strokeWidth":1},"encoding":{"x":{"field":"x","type":"quantitative","axis":null},"x2":{"field":"x1"},"y":{"field":"y","type":"quantitative","axis":null},"y2":{"field":"y1"}}},
{"data":{"name":"region"},"mark":{"type":"area","orient":"horizontal","fill":"#0000c4","interpolate":"catmull-rom"},"encoding":{"y":{"field":"y","type":"quantitative","axis":null},"x":{"field":"l","type":"quantitative","axis":null},"x2":{"field":"r"}}},
{"data":{"name":"dim"},"mark":{"type":"line","stroke":"#0004d2","strokeWidth":8,"strokeCap":"butt","interpolate":"catmull-rom"},"encoding":{"x":{"field":"x","type":"quantitative","axis":null},"y":{"field":"y","type":"quantitative","axis":null},"detail":{"field":"s"},"order":{"field":"y"}}},
{"data":{"name":"bright"},"mark":{"type":"line","stroke":"#040cd8","strokeWidth":30,"strokeCap":"butt","interpolate":"catmull-rom"},"encoding":{"x":{"field":"x","type":"quantitative","axis":null},"y":{"field":"y","type":"quantitative","axis":null},"detail":{"field":"s"},"order":{"field":"y"}}},
{"data":{"name":"bright"},"mark":{"type":"line","stroke":"#081ce4","strokeWidth":16,"strokeCap":"butt","interpolate":"catmull-rom"},"encoding":{"x":{"field":"x","type":"quantitative","axis":null},"y":{"field":"y","type":"quantitative","axis":null},"detail":{"field":"s"},"order":{"field":"y"}}},
{"data":{"name":"topa"},"mark":{"type":"circle","size":14,"color":"#0000b8","opacity":1},"encoding":{"x":{"field":"x","type":"quantitative","axis":null},"y":{"field":"y","type":"quantitative","axis":null}}},
{"data":{"values":[{"x":30,"x1":160,"y":514}]},"mark":{"type":"rule","stroke":"#fff","strokeWidth":2.5},"encoding":{"x":{"field":"x","type":"quantitative","axis":null},"x2":{"field":"x1"},"y":{"field":"y","type":"quantitative","axis":null}}},
{"data":{"name":"bota"},"mark":{"type":"circle","size":11,"color":"#fff","opacity":1},"encoding":{"x":{"field":"x","type":"quantitative","axis":null},"y":{"field":"y","type":"quantitative","axis":null}}},
{"data":{"name":"da"},"mark":{"type":"square","size":3,"color":"#e8ecff","opacity":1},"encoding":{"x":{"field":"x","type":"quantitative","axis":null},"y":{"field":"y","type":"quantitative","axis":null}}},
{"data":{"name":"pa"},"mark":{"type":"rule","strokeWidth":1.4},"encoding":{"x":{"field":"x","type":"quantitative","axis":null},"y":{"field":"y","type":"quantitative","axis":null},"y2":{"field":"y2"},"color":{"field":"v","type":"quantitative","legend":null,"scale":{"domain":[0,0.11,0.36,0.62,0.89,1],"range":["#000090","#0000ff","#00ffff","#ffff00","#ff0000","#800000"]}}}},
{"data":{"values":[{"x":100,"y":722,"t":"(a)  Alle Peaks"}]},"mark":{"type":"text","font":"DejaVu Serif","fontSize":23.5,"color":"#111"},"encoding":{"x":{"field":"x","type":"quantitative","axis":null},"y":{"field":"y","type":"quantitative","axis":null},"text":{"field":"t"}}}
]}
],"resolve":{"scale":{"x":"independent","y":"independent"},"axis":{"x":"independent","y":"independent"}}},
{"width":466,"height":367,"layer":[
{"data":{"values":[{"x":0,"y":0}]},"mark":{"type":"point","opacity":0},"encoding":{"x":{"field":"x","type":"quantitative","scale":{"domain":[0,200],"nice":false},"axis":{"values":[0,20,40,60,80,100,120,140,160,180,200],"grid":true,"gridDash":[1,3],"gridColor":"#000","gridOpacity":1,"domainColor":"#000","labelPadding":6}},"y":{"field":"y","type":"quantitative","scale":{"domain":[-162,600],"nice":false,"reverse":true},"axis":{"orient":"right","values":[0,100,200,300,400,500,600],"grid":false,"domain":false,"labelPadding":3}}}},
{"data":{"values":[{"z":0}]},"mark":{"type":"point","opacity":0},"encoding":{"y":{"field":"z","type":"quantitative","scale":{"domain":[0,476.6],"nice":false},"axis":{"orient":"left","values":[0,50,100],"grid":false,"domain":false,"labelPadding":5}}}},
{"layer":[
{"data":{"name":"hgrid"},"mark":{"type":"rule","stroke":"#000","strokeDash":[1,3],"strokeWidth":1},"encoding":{"x":{"field":"x0","type":"quantitative","scale":{"domain":[0,200],"nice":false},"axis":null},"x2":{"field":"x1"},"y":{"field":"y","type":"quantitative","scale":{"domain":[-162,600],"nice":false,"reverse":true},"axis":null}}},
{"data":{"values":[{"x":200,"y":0,"y2":600},{"x":0,"y":440,"y2":600}]},"mark":{"type":"rule","stroke":"#555","strokeWidth":1.5},"encoding":{"x":{"field":"x","type":"quantitative","axis":null},"y":{"field":"y","type":"quantitative","axis":null},"y2":{"field":"y2"}}},
{"data":{"name":"frame"},"mark":{"type":"rect","fill":"#000090","stroke":"#5a5ac8","strokeWidth":1},"encoding":{"x":{"field":"x","type":"quantitative","axis":null},"x2":{"field":"x1"},"y":{"field":"y","type":"quantitative","axis":null},"y2":{"field":"y1"}}},
{"data":{"name":"region"},"mark":{"type":"area","orient":"horizontal","fill":"#0000b0","interpolate":"catmull-rom"},"encoding":{"y":{"field":"y","type":"quantitative","axis":null},"x":{"field":"l","type":"quantitative","axis":null},"x2":{"field":"r"}}},
{"data":{"name":"arcs"},"mark":{"type":"line","stroke":"#0014e0","strokeWidth":1.5,"interpolate":"catmull-rom"},"encoding":{"x":{"field":"x","type":"quantitative","axis":null},"y":{"field":"y","type":"quantitative","axis":null},"detail":{"field":"s"},"order":{"field":"y"}}},
{"data":{"name":"dim"},"mark":{"type":"line","stroke":"#0008d8","strokeWidth":6,"strokeCap":"butt","interpolate":"catmull-rom"},"encoding":{"x":{"field":"x","type":"quantitative","axis":null},"y":{"field":"y","type":"quantitative","axis":null},"detail":{"field":"s"},"order":{"field":"y"}}},
{"data":{"name":"bright"},"mark":{"type":"line","stroke":"#0612e0","strokeWidth":30,"strokeCap":"butt","interpolate":"catmull-rom"},"encoding":{"x":{"field":"x","type":"quantitative","axis":null},"y":{"field":"y","type":"quantitative","axis":null},"detail":{"field":"s"},"order":{"field":"y"}}},
{"data":{"name":"bright"},"mark":{"type":"line","stroke":"#0a28ee","strokeWidth":16,"strokeCap":"butt","interpolate":"catmull-rom"},"encoding":{"x":{"field":"x","type":"quantitative","axis":null},"y":{"field":"y","type":"quantitative","axis":null},"detail":{"field":"s"},"order":{"field":"y"}}},
{"data":{"name":"topa"},"mark":{"type":"circle","size":14,"color":"#0000b8","opacity":1},"encoding":{"x":{"field":"x","type":"quantitative","axis":null},"y":{"field":"y","type":"quantitative","axis":null}}},
{"data":{"values":[{"x":35,"x1":160,"y":514}]},"mark":{"type":"rule","stroke":"#fff","strokeWidth":2.5},"encoding":{"x":{"field":"x","type":"quantitative","axis":null},"x2":{"field":"x1"},"y":{"field":"y","type":"quantitative","axis":null}}},
{"data":{"name":"botb"},"mark":{"type":"circle","size":11,"color":"#fff","opacity":1},"encoding":{"x":{"field":"x","type":"quantitative","axis":null},"y":{"field":"y","type":"quantitative","axis":null}}},
{"data":{"name":"db"},"mark":{"type":"square","size":3,"color":"#e8ecff","opacity":1},"encoding":{"x":{"field":"x","type":"quantitative","axis":null},"y":{"field":"y","type":"quantitative","axis":null}}},
{"data":{"name":"pb"},"mark":{"type":"rule","strokeWidth":1.4},"encoding":{"x":{"field":"x","type":"quantitative","axis":null},"y":{"field":"y","type":"quantitative","axis":null},"y2":{"field":"y2"},"color":{"field":"v","type":"quantitative","legend":null,"scale":{"domain":[0,0.11,0.36,0.62,0.89,1],"range":["#000090","#0000ff","#00ffff","#ffff00","#ff0000","#800000"]}}}},
{"data":{"values":[{"x":100,"y":722,"t":"(b)  Erster Peak entfernt"}]},"mark":{"type":"text","font":"DejaVu Serif","fontSize":23.5,"color":"#111"},"encoding":{"x":{"field":"x","type":"quantitative","axis":null},"y":{"field":"y","type":"quantitative","axis":null},"text":{"field":"t"}}}
]}
],"resolve":{"scale":{"x":"independent","y":"independent"},"axis":{"x":"independent","y":"independent"}}},
{"width":471,"height":372,"layer":[
{"data":{"values":[{"x":0,"y":0}]},"mark":{"type":"point","opacity":0},"encoding":{"x":{"field":"x","type":"quantitative","scale":{"domain":[0,200],"nice":false},"axis":{"values":[0,20,40,60,80,100,120,140,160,180,200],"grid":true,"gridDash":[1,3],"gridColor":"#000","gridOpacity":1,"domainColor":"#444","labelPadding":6}},"y":{"field":"y","type":"quantitative","scale":{"domain":[-164,600],"nice":false,"reverse":true},"axis":{"orient":"right","values":[0,100,200,300,400,500,600],"grid":false,"domain":false,"labelPadding":3}}}},
{"data":{"values":[{"z":0}]},"mark":{"type":"point","opacity":0},"encoding":{"y":{"field":"z","type":"quantitative","scale":{"domain":[0,193],"nice":false},"axis":{"orient":"left","values":[0,20,40],"grid":false,"domain":false,"labelPadding":5}}}},
{"layer":[
{"data":{"name":"hgrid"},"mark":{"type":"rule","stroke":"#000","strokeDash":[1,3],"strokeWidth":1},"encoding":{"x":{"field":"x0","type":"quantitative","scale":{"domain":[0,200],"nice":false},"axis":null},"x2":{"field":"x1"},"y":{"field":"y","type":"quantitative","scale":{"domain":[-164,600],"nice":false,"reverse":true},"axis":null}}},
{"data":{"values":[{"x":0,"y":440,"y2":600}]},"mark":{"type":"rule","stroke":"#555","strokeWidth":1.5},"encoding":{"x":{"field":"x","type":"quantitative","axis":null},"y":{"field":"y","type":"quantitative","axis":null},"y2":{"field":"y2"}}},
{"data":{"values":[{"x":0.6,"x1":186.6,"y":-6,"y1":513}]},"mark":{"type":"rect","fill":"#000090","stroke":"#4a4ac0","strokeWidth":1},"encoding":{"x":{"field":"x","type":"quantitative","axis":null},"x2":{"field":"x1"},"y":{"field":"y","type":"quantitative","axis":null},"y2":{"field":"y1"}}},
{"data":{"name":"ribbon"},"mark":{"type":"area","orient":"horizontal","fill":"#0008cc","interpolate":"catmull-rom"},"encoding":{"y":{"field":"y","type":"quantitative","axis":null},"x":{"field":"l","type":"quantitative","axis":null},"x2":{"field":"r"}}},
{"data":{"name":"ribboncore"},"mark":{"type":"area","orient":"horizontal","fill":"#0050f8","interpolate":"catmull-rom"},"encoding":{"y":{"field":"y","type":"quantitative","axis":null},"x":{"field":"l","type":"quantitative","axis":null},"x2":{"field":"r"}}},
{"data":{"name":"topc"},"mark":{"type":"square","size":3,"color":"#7070c8","opacity":1},"encoding":{"x":{"field":"x","type":"quantitative","axis":null},"y":{"field":"y","type":"quantitative","axis":null}}},
{"data":{"name":"botc"},"mark":{"type":"circle","size":11,"color":"#fff","opacity":1},"encoding":{"x":{"field":"x","type":"quantitative","axis":null},"y":{"field":"y","type":"quantitative","axis":null}}},
{"data":{"name":"dc"},"mark":{"type":"square","size":3,"color":"#e8ecff","opacity":1},"encoding":{"x":{"field":"x","type":"quantitative","axis":null},"y":{"field":"y","type":"quantitative","axis":null}}},
{"data":{"name":"pc"},"mark":{"type":"rule","strokeWidth":2},"encoding":{"x":{"field":"x","type":"quantitative","axis":null},"y":{"field":"y","type":"quantitative","axis":null},"y2":{"field":"y2"},"color":{"field":"v","type":"quantitative","legend":null,"scale":{"domain":[0,0.11,0.36,0.62,0.89,1],"range":["#000090","#0000ff","#00ffff","#ffff00","#ff0000","#800000"]}}}},
{"data":{"values":[{"x":100,"y":723,"t":"(c)  Letzter Peak"}]},"mark":{"type":"text","font":"DejaVu Serif","fontSize":23.5,"color":"#111"},"encoding":{"x":{"field":"x","type":"quantitative","axis":null},"y":{"field":"y","type":"quantitative","axis":null},"text":{"field":"t"}}}
]}
],"resolve":{"scale":{"x":"independent","y":"independent"},"axis":{"x":"independent","y":"independent"}}},
{"width":510,"height":372,"layer":[
{"data":{"name":"dgrid"},"mark":{"type":"rule","stroke":"#000","strokeDash":[1,3],"strokeWidth":1},"encoding":{"x":{"field":"x0","type":"quantitative","scale":{"domain":[659,1169],"nice":false},"axis":null},"x2":{"field":"x1"},"y":{"field":"y0","type":"quantitative","scale":{"domain":[477,849],"nice":false,"reverse":true},"axis":null},"y2":{"field":"y1"}}},
{"data":{"name":"floor"},"mark":{"type":"area","fill":"#000090"},"encoding":{"x":{"field":"px","type":"quantitative","axis":null},"y":{"field":"t","type":"quantitative","axis":null},"y2":{"field":"b"}}},
{"data":{"name":"daxes"},"mark":{"type":"rule","stroke":"#111","strokeWidth":1.2},"encoding":{"x":{"field":"x0","type":"quantitative","axis":null},"x2":{"field":"x1"},"y":{"field":"y0","type":"quantitative","axis":null},"y2":{"field":"y1"}}},
{"data":{"name":"mass"},"mark":{"type":"area","fill":"#000098"},"encoding":{"x":{"field":"px","type":"quantitative","axis":null},"y":{"field":"t","type":"quantitative","axis":null},"y2":{"field":"b"}}},
{"data":{"name":"dspike"},"mark":{"type":"rule","strokeWidth":1.8},"encoding":{"x":{"field":"px","type":"quantitative","axis":null},"y":{"field":"y0","type":"quantitative","axis":null},"y2":{"field":"y1"},"color":{"field":"v","type":"quantitative","legend":null,"scale":{"domain":[0,0.11,0.36,0.62,0.89,1],"range":["#000090","#0000ff","#00ffff","#ffff00","#ff0000","#800000"]}}}},
{"data":{"name":"dfill"},"mark":{"type":"rule","strokeWidth":1.6},"encoding":{"x":{"field":"px","type":"quantitative","axis":null},"y":{"field":"y0","type":"quantitative","axis":null},"y2":{"field":"y1"},"color":{"field":"v","type":"quantitative","legend":null,"scale":{"domain":[0,0.11,0.36,0.62,0.89,1],"range":["#000090","#0000ff","#00ffff","#ffff00","#ff0000","#800000"]}}}},
{"data":{"name":"dlight"},"mark":{"type":"rule","strokeWidth":1.3},"encoding":{"x":{"field":"px","type":"quantitative","axis":null},"y":{"field":"y0","type":"quantitative","axis":null},"y2":{"field":"y1"},"color":{"field":"v","type":"quantitative","legend":null,"scale":{"domain":[0,0.11,0.36,0.62,0.89,1],"range":["#000090","#0000ff","#00ffff","#ffff00","#ff0000","#800000"]}}}},
{"data":{"name":"dwhite"},"mark":{"type":"square","size":3,"color":"#fff","opacity":1},"encoding":{"x":{"field":"px","type":"quantitative","axis":null},"y":{"field":"py","type":"quantitative","axis":null}}},
{"data":{"name":"dtext"},"mark":{"type":"text","font":"Liberation Sans","fontSize":13,"color":"#333"},"encoding":{"x":{"field":"px","type":"quantitative","axis":null},"y":{"field":"py","type":"quantitative","axis":null},"text":{"field":"t"}}},
{"data":{"values":[{"px":686,"py":510,"t":"-6"}]},"mark":{"type":"text","font":"Liberation Sans","fontSize":9,"color":"#333"},"encoding":{"x":{"field":"px","type":"quantitative","axis":null},"y":{"field":"py","type":"quantitative","axis":null},"text":{"field":"t"}}},
{"data":{"values":[{"px":891,"py":909,"t":"(d)  Restposten"}]},"mark":{"type":"text","font":"DejaVu Serif","fontSize":23.5,"color":"#111"},"encoding":{"x":{"field":"px","type":"quantitative","axis":null},"y":{"field":"py","type":"quantitative","axis":null},"text":{"field":"t"}}}
]}
]}
